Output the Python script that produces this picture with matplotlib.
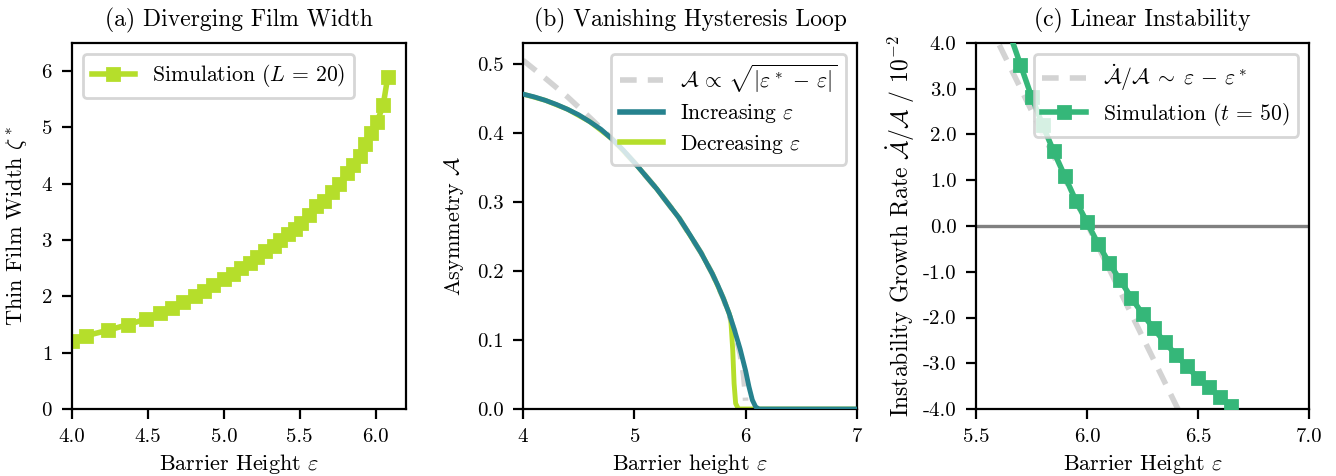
import matplotlib
matplotlib.use("Agg")
import matplotlib.pyplot as plt
from matplotlib.ticker import FormatStrFormatter, MultipleLocator
from matplotlib.lines import Line2D

plt.rcParams.update({
    "font.family": "serif",
    "font.serif": ["cmr10"],
    "mathtext.fontset": "cm",
    "axes.unicode_minus": False,
    "axes.formatter.use_mathtext": True,
    "font.size": 8,
    "axes.titlesize": 8.5,
    "axes.labelsize": 8,
    "xtick.labelsize": 7.5,
    "ytick.labelsize": 7.5,
    "legend.fontsize": 7.8,
    "legend.labelspacing": 0.35,
})

# ---------------- data ----------------
# (a) Diverging film width
eps_a = [4.00, 4.09, 4.24, 4.37, 4.49, 4.58, 4.66, 4.73, 4.81, 4.87, 4.93, 5.00,
         5.06, 5.11, 5.17, 5.22, 5.27, 5.33, 5.37, 5.42, 5.47, 5.51, 5.56, 5.61,
         5.66, 5.71, 5.76, 5.81, 5.85, 5.90, 5.93, 5.97, 6.01, 6.05, 6.08]
width_a = [1.2, 1.3, 1.4, 1.5, 1.6, 1.7, 1.8, 1.9, 2.0, 2.1, 2.2, 2.3,
           2.4, 2.5, 2.6, 2.7, 2.8, 2.9, 3.0, 3.1, 3.2, 3.3, 3.45, 3.6,
           3.7, 3.85, 4.0, 4.2, 4.33, 4.5, 4.7, 4.9, 5.1, 5.4, 5.9]

# (b) Hysteresis loop
eps_fit_b = [4.0, 4.2, 4.4, 4.6, 4.8, 5.0, 5.2, 5.4, 5.6, 5.7, 5.8, 5.9, 5.95, 5.98, 5.995, 5.999]
asym_fit_b = [0.505, 0.479, 0.452, 0.422, 0.391, 0.357, 0.319, 0.277, 0.226, 0.196,
              0.160, 0.113, 0.080, 0.050, 0.025, 0.012]
eps_inc_b = [4.0, 4.1, 4.2, 4.3, 4.4, 4.5, 4.6, 4.7, 4.8, 4.9, 5.0, 5.1, 5.2, 5.3,
             5.4, 5.5, 5.6, 5.7, 5.75, 5.8, 5.85, 5.9, 5.95, 6.0, 6.03, 6.06,
             6.09, 6.12, 7.0]
asym_inc_b = [0.456, 0.452, 0.447, 0.441, 0.434, 0.426, 0.416, 0.405, 0.391, 0.375,
              0.357, 0.338, 0.319, 0.298, 0.277, 0.252, 0.226, 0.196, 0.179, 0.160,
              0.139, 0.114, 0.087, 0.055, 0.032, 0.013, 0.003, 0.0, 0.0]
eps_dec_b = [4.0, 4.2, 4.4, 4.6, 4.8, 5.0, 5.2, 5.4, 5.6, 5.7, 5.8, 5.85, 5.866,
             5.884, 5.896, 5.91, 5.935, 7.0]
asym_dec_b = [0.456, 0.447, 0.434, 0.416, 0.391, 0.357, 0.319, 0.277, 0.226, 0.196,
              0.160, 0.139, 0.131, 0.085, 0.037, 0.008, 0.0, 0.0]

# (c) Linear instability
eps_fit_c = [5.55, 6.46]
rate_fit_c = [4.5, -4.5]
eps_sim_c = [5.65, 5.70, 5.75, 5.80, 5.85, 5.90, 5.95, 6.00, 6.05, 6.10, 6.15,
             6.20, 6.25, 6.30, 6.35, 6.40, 6.45, 6.50, 6.55, 6.60, 6.65]
rate_sim_c = [4.23, 3.53, 2.83, 2.21, 1.63, 1.09, 0.55, 0.08, -0.39, -0.81, -1.19,
              -1.57, -1.92, -2.24, -2.54, -2.81, -3.07, -3.32, -3.53, -3.74, -3.93]

LIME = "#b5de2b"
TEAL = "#26828e"
GREEN = "#35b779"
GRAY = "#d3d3d3"

fig = plt.figure(figsize=(6.68, 2.38), dpi=200)
W, H = 1336, 476
def rect(l, r, t, b):
    return [l / W, (H - b) / H, (r - l) / W, (b - t) / H]

ax1 = fig.add_axes(rect(72, 406, 43, 409))
ax2 = fig.add_axes(rect(523, 857, 43, 409))
ax3 = fig.add_axes(rect(976, 1309, 43, 409))

XPAD = 2.0

# ---- (a)
ax1.plot(eps_a, width_a, color=LIME, marker="s", ms=4.2, lw=2,
         label=r"Simulation ($L\,=\,20$)")
ax1.set_xlim(4.0, 6.2)
ax1.set_ylim(0, 6.5)
ax1.xaxis.set_major_locator(MultipleLocator(0.5))
ax1.xaxis.set_major_formatter(FormatStrFormatter("%.1f"))
ax1.yaxis.set_major_locator(MultipleLocator(1))
ax1.set_xlabel(r"Barrier Height $\varepsilon$", labelpad=XPAD)
ax1.set_ylabel(r"Thin Film Width $\zeta^*$")
ax1.set_title("(a) Diverging Film Width")
ax1.legend(loc="upper left")

# ---- (b)
ax2.plot(eps_fit_b, asym_fit_b, color=GRAY, ls=(0, (3, 2)), lw=2, zorder=1)
ax2.plot(eps_dec_b, asym_dec_b, color=LIME, lw=1.75, zorder=2)
ax2.plot(eps_inc_b, asym_inc_b, color=TEAL, lw=1.75, zorder=3)
ax2.set_xlim(4, 7)
ax2.set_ylim(0, 0.53)
ax2.xaxis.set_major_locator(MultipleLocator(1))
ax2.yaxis.set_major_locator(MultipleLocator(0.1))
ax2.yaxis.set_major_formatter(FormatStrFormatter("%.1f"))
ax2.set_xlabel(r"Barrier height $\varepsilon$", labelpad=XPAD)
ax2.set_ylabel(r"Asymmetry $\mathcal{A}$")
ax2.set_title("(b) Vanishing Hysteresis Loop")
handles_b = [Line2D([], [], color=GRAY, ls=(0, (3, 2)), lw=2),
             Line2D([], [], color=TEAL, lw=2),
             Line2D([], [], color=LIME, lw=2)]
labels_b = [r"$\mathcal{A}\,\propto\,\sqrt{|\varepsilon^*\,-\,\varepsilon|}$",
            r"Increasing $\varepsilon$", r"Decreasing $\varepsilon$"]
ax2.legend(handles_b, labels_b, loc="upper right")

# ---- (c)
ax3.axhline(0, color="#808080", lw=1.2, zorder=1)
ax3.plot(eps_fit_c, rate_fit_c, color=GRAY, ls=(0, (3, 2)), lw=2, zorder=2,
         label=r"$\dot{\mathcal{A}}/\mathcal{A}\;\sim\;\varepsilon\,-\,\varepsilon^*$")
ax3.plot(eps_sim_c, rate_sim_c, color=GREEN, marker="s", ms=4.2, lw=2, zorder=3,
         label=r"Simulation ($t\,=\,50$)")
ax3.set_xlim(5.5, 7.0)
ax3.set_ylim(-4.0, 4.0)
ax3.xaxis.set_major_locator(MultipleLocator(0.5))
ax3.xaxis.set_major_formatter(FormatStrFormatter("%.1f"))
ax3.yaxis.set_major_locator(MultipleLocator(1.0))
ax3.yaxis.set_major_formatter(FormatStrFormatter("%.1f"))
ax3.set_xlabel(r"Barrier Height $\varepsilon$", labelpad=XPAD)
ax3.set_ylabel(r"Instability Growth Rate $\dot{\mathcal{A}}/\mathcal{A}$ / $10^{-2}$",
               fontsize=8.5, labelpad=2)
ax3.set_title("(c) Linear Instability")
ax3.legend(loc="upper right")

fig.savefig("out.png", dpi=200)
